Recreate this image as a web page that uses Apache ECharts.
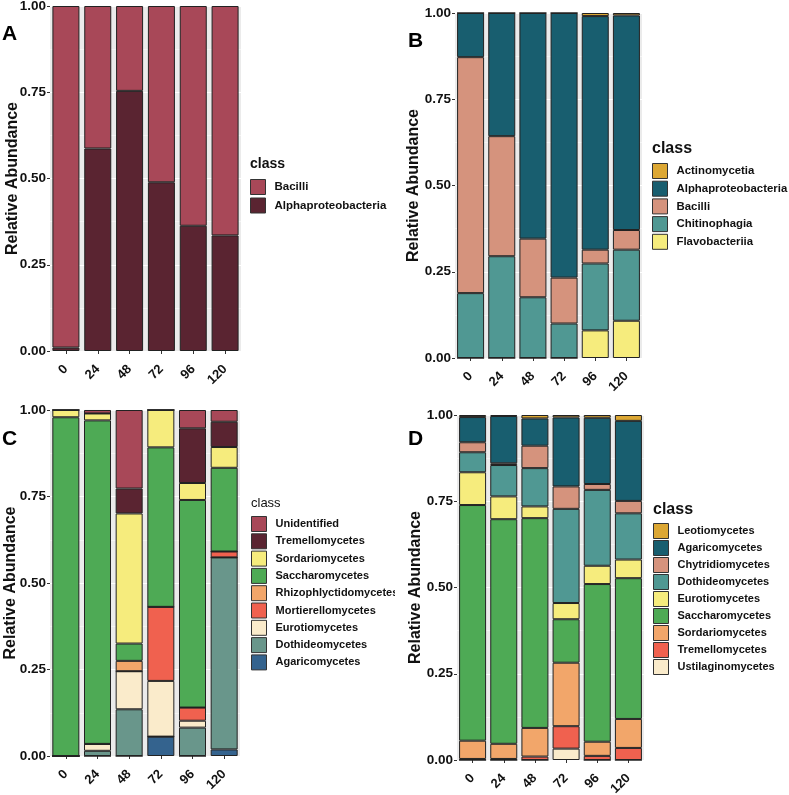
<!DOCTYPE html>
<html>
<head>
<meta charset="utf-8">
<script src="https://cdn.jsdelivr.net/npm/echarts@6/dist/echarts.min.js"></script>
<style>
  body { margin: 0; background: #fff; }
  .panel { position: absolute; }
</style>
</head>
<body>
<div id="pa" class="panel" style="left:0;top:0;width:395px;height:395px"></div>
<div id="pb" class="panel" style="left:395px;top:0;width:394px;height:395px"></div>
<div id="pc" class="panel" style="left:0;top:395px;width:395px;height:400px"></div>
<div id="pd" class="panel" style="left:395px;top:395px;width:394px;height:400px"></div>
<script>
// sampling hours (x categories) and y tick labels
var hours = ['0', '24', '48', '72', '96', '120'];
var yTicks = ['0.00', '0.25', '0.50', '0.75', '1.00'];

// A - bacteria (stack order bottom -> top)
var aNames = ['Alphaproteobacteria', 'Bacilli'];
var aAlpha = [0.010, 0.587, 0.754, 0.489, 0.363, 0.335];
var aBacilli = [0.990, 0.413, 0.246, 0.511, 0.637, 0.665];
var aLegend = ['Bacilli', 'Alphaproteobacteria'];

// B - bacteria
var bNames = ['Flavobacteriia', 'Chitinophagia', 'Bacilli', 'Alphaproteobacteria', 'Actinomycetia'];
var bFlavo = [0, 0, 0, 0, 0.080, 0.108];
var bChitino = [0.188, 0.295, 0.176, 0.100, 0.194, 0.206];
var bBacilli = [0.684, 0.348, 0.170, 0.133, 0.040, 0.057];
var bAlpha = [0.128, 0.357, 0.654, 0.767, 0.677, 0.622];
var bActino = [0, 0, 0, 0, 0.009, 0.007];
var bLegend = ['Actinomycetia', 'Alphaproteobacteria', 'Bacilli', 'Chitinophagia', 'Flavobacteriia'];

// C - fungi
var cNames = ['Agaricomycetes', 'Dothideomycetes', 'Eurotiomycetes', 'Mortierellomycetes', 'Rhizophlyctidomycetes',
  'Saccharomycetes', 'Sordariomycetes', 'Tremellomycetes', 'Unidentified'];
var cAgarico = [0, 0, 0, 0.056, 0, 0.019];
var cDothideo = [0, 0.015, 0.135, 0, 0.082, 0.555];
var cEuro = [0, 0.020, 0.110, 0.161, 0.020, 0];
var cMortier = [0, 0, 0, 0.214, 0.038, 0.017];
var cRhizo = [0, 0, 0.030, 0, 0, 0];
var cSacch = [0.979, 0.935, 0.050, 0.461, 0.600, 0.242];
var cSord = [0.021, 0.020, 0.376, 0.108, 0.049, 0.060];
var cTremello = [0, 0, 0.072, 0, 0.158, 0.073];
var cUnident = [0, 0.010, 0.227, 0, 0.053, 0.034];
var cLegend = cNames.slice().reverse();

// D - fungi
var dNames = ['Ustilaginomycetes', 'Tremellomycetes', 'Sordariomycetes', 'Saccharomycetes', 'Eurotiomycetes',
  'Dothideomycetes', 'Chytridiomycetes', 'Agaricomycetes', 'Leotiomycetes'];
var dUstil = [0, 0, 0, 0.033, 0, 0];
var dTremello = [0.003, 0.003, 0.010, 0.065, 0.012, 0.035];
var dSord = [0.053, 0.044, 0.083, 0.184, 0.041, 0.084];
var dSacch = [0.683, 0.651, 0.608, 0.126, 0.457, 0.408];
var dEuro = [0.095, 0.066, 0.034, 0.047, 0.053, 0.054];
var dDothideo = [0.058, 0.091, 0.111, 0.273, 0.220, 0.134];
var dChytrid = [0.029, 0.005, 0.065, 0.065, 0.017, 0.036];
var dAgarico = [0.073, 0.137, 0.079, 0.200, 0.192, 0.232];
var dLeotio = [0.006, 0.003, 0.010, 0.007, 0.008, 0.017];
var dLegend = dNames.slice().reverse();

var FONT = '"Liberation Sans", Arial, sans-serif';

function makePanel(id, letter, names, values, colors, legendOrder, lay) {
  var chart = echarts.init(document.getElementById(id));
  var series = names.map(function (n, i) {
    return {
      name: n, type: 'bar', stack: 'total', barWidth: 27,
      data: values[i],
      itemStyle: { color: colors[i], borderColor: '#222', borderWidth: 1 },
      emphasis: { disabled: true }
    };
  });
  chart.setOption({
    animation: false,
    textStyle: { fontFamily: FONT },
    grid: {
      left: lay.gl, top: lay.gt, width: lay.gw, height: lay.gh,
      show: true, backgroundColor: '#EBEBEB', borderWidth: 0,
      containLabel: false, outerBoundsMode: 'none'
    },
    xAxis: {
      type: 'category', data: hours,
      axisLine: { show: false },
      axisTick: { show: true, alignWithLabel: true, length: 3, lineStyle: { color: '#333' } },
      axisLabel: { rotate: 45, fontSize: 13, fontWeight: 'bold', color: '#111', margin: 16, fontFamily: FONT },
      splitLine: { show: false }
    },
    yAxis: {
      type: 'value', min: 0, max: 1, interval: 0.25,
      name: 'Relative Abundance', nameLocation: 'middle', nameGap: lay.nameGap, nameMoveOverlap: false,
      nameTextStyle: { fontSize: 16, fontWeight: 'bold', color: '#111', fontFamily: FONT },
      axisLine: { show: false },
      axisTick: { show: true, length: 3, lineStyle: { color: '#333' } },
      axisLabel: {
        fontSize: 13.5, fontWeight: 'bold', color: '#111', margin: 4, fontFamily: FONT,
        formatter: function (v) { return yTicks[Math.round(v * 4)]; }
      },
      splitLine: { show: true, lineStyle: { color: '#fff', width: 1.1 } },
      minorTick: { show: false, splitNumber: 2 },
      minorSplitLine: { show: true, lineStyle: { color: '#fff', width: 0.5 } }
    },
    legend: {
      data: legendOrder, orient: 'vertical', left: lay.lx, top: lay.ly, padding: 0,
      icon: 'rect', itemWidth: 15, itemHeight: 15, itemGap: lay.lgap,
      itemStyle: { borderColor: '#333', borderWidth: 1 },
      textStyle: { fontSize: lay.lfs, fontWeight: 'bold', color: '#111', lineHeight: 14, padding: [0, 0, 0, 4], fontFamily: FONT },
      selectedMode: false
    },
    graphic: [
      { type: 'text', left: lay.px, top: lay.py,
        style: { text: letter, font: 'bold 21px ' + FONT, fill: '#000' } },
      { type: 'text', left: lay.lx, top: lay.ty,
        style: { text: 'class', font: lay.tfont + ' ' + FONT, fill: '#111' } }
    ],
    series: series
  });
}

var maroon = '#A84858', darkMaroon = '#5A2431', gold = '#DCA733', darkTeal = '#185E6F',
  salmon = '#D5937D', teal = '#509893', yellow = '#F6EC7D', green = '#4EAA55',
  orange = '#F2A66A', coral = '#F0614F', cream = '#FAEBCB', greyTeal = '#69968B', blue = '#34638E';

makePanel('pa', 'A', aNames, [aAlpha, aBacilli], [darkMaroon, maroon], aLegend,
  { gl: 50, gt: 6, gw: 191, gh: 345, nameGap: 29, lx: 250, ly: 179, lgap: 2.5, lfs: 11.5, ty: 157, tfont: '600 14px', px: 2, py: 24 });

makePanel('pb', 'B', bNames, [bFlavo, bChitino, bBacilli, bAlpha, bActino],
  [yellow, teal, salmon, darkTeal, gold], bLegend,
  { gl: 60, gt: 13, gw: 187, gh: 345, nameGap: 33, lx: 257, ly: 163, lgap: 1.7, lfs: 11.4, ty: 141, tfont: 'bold 16px', px: 13, py: 31 });

makePanel('pc', 'C', cNames, [cAgarico, cDothideo, cEuro, cMortier, cRhizo, cSacch, cSord, cTremello, cUnident],
  [blue, greyTeal, cream, coral, orange, green, yellow, darkMaroon, maroon], cLegend,
  { gl: 50, gt: 15, gw: 190, gh: 346, nameGap: 31, lx: 251, ly: 121, lgap: 1.3, lfs: 11, ty: 102, tfont: '13px', px: 2, py: 34 });

makePanel('pd', 'D', dNames, [dUstil, dTremello, dSord, dSacch, dEuro, dDothideo, dChytrid, dAgarico, dLeotio],
  [cream, coral, orange, green, yellow, teal, salmon, darkTeal, gold], dLegend,
  { gl: 62, gt: 20, gw: 187, gh: 345, nameGap: 33, lx: 258, ly: 128, lgap: 1, lfs: 11, ty: 107, tfont: 'bold 16px', px: 13, py: 34 });
</script>
</body>
</html>
